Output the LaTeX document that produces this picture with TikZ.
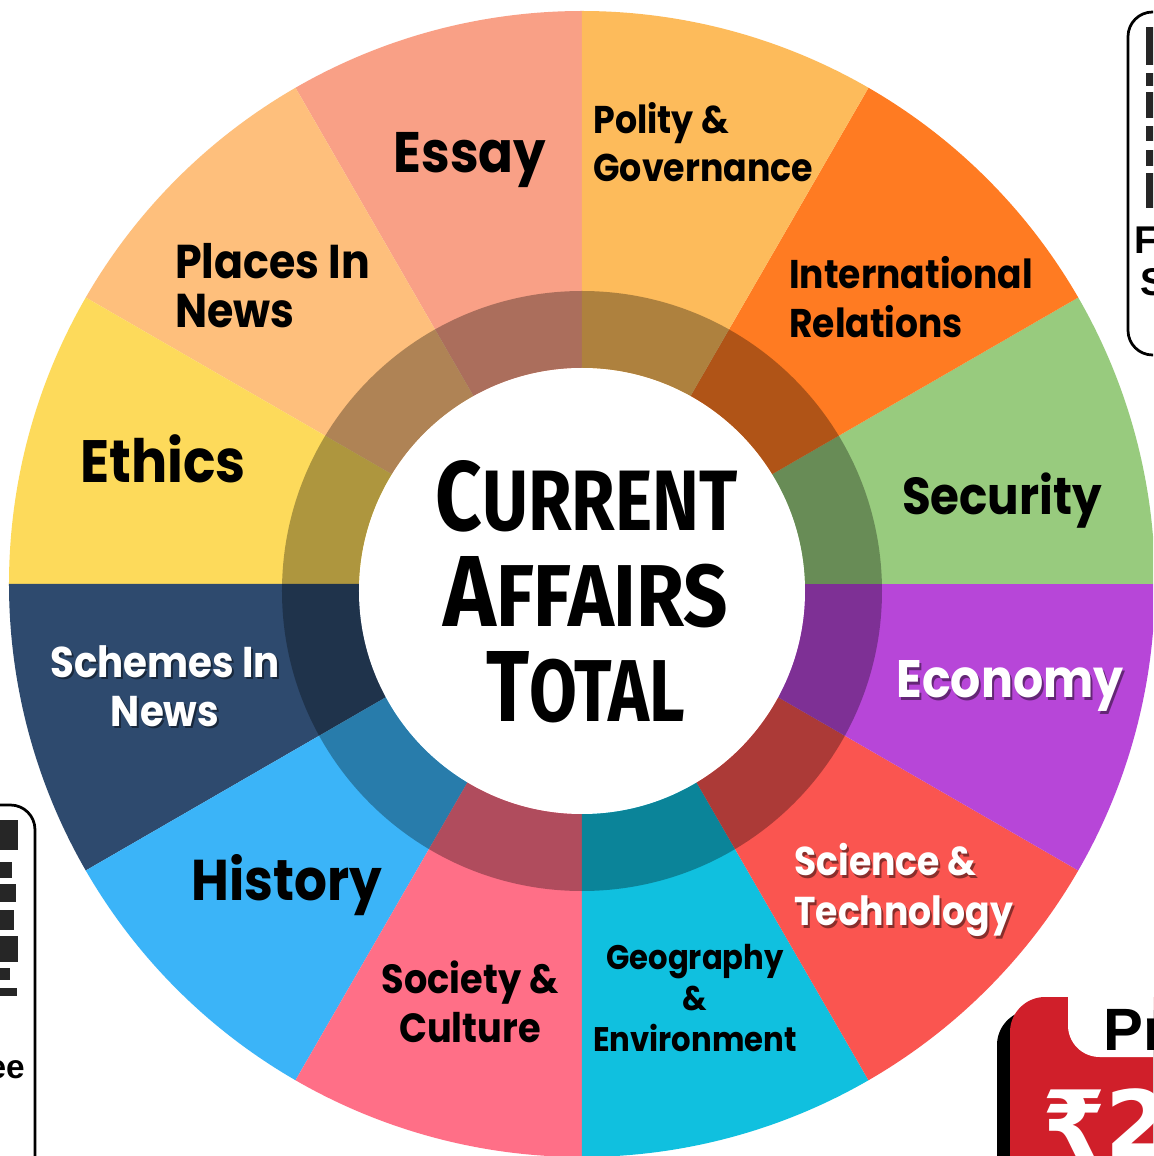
\documentclass[tikz,border=0pt]{standalone}
\usepackage{fontspec}
\usepackage{graphicx}
\setmainfont{Poppins}[FakeStretch=0.9]
\newfontfamily\titlefont{Fira Sans}
\newfontfamily\symfont{DejaVu Sans}
\newfontfamily\edgefont{Liberation Sans}
\usetikzlibrary{positioning}
\definecolor{secEssay}{HTML}{F9A086}
\definecolor{secPolity}{HTML}{FDBB5B}
\definecolor{secIntl}{HTML}{FF7B22}
\definecolor{secSecurity}{HTML}{98CB7E}
\definecolor{secEconomy}{HTML}{B746D8}
\definecolor{secScience}{HTML}{FA5550}
\definecolor{secGeo}{HTML}{10C0DF}
\definecolor{secSociety}{HTML}{FF6F87}
\definecolor{secHistory}{HTML}{3BB4F8}
\definecolor{secSchemes}{HTML}{2E4A6E}
\definecolor{secEthics}{HTML}{FDDA5B}
\definecolor{secPlaces}{HTML}{FEBF7C}
\definecolor{badgered}{HTML}{D01F2A}
\newcommand{\capword}[2]{{\fontsize{20}{20}\selectfont #1}{\fontsize{17.4}{20}\selectfont #2}}
\newcommand{\fs}[2]{\bfseries\fontsize{#1}{#2}\selectfont}

\begin{document}
\begin{tikzpicture}[
  x=0.2mm,y=0.2mm,
  lbl/.style={inner sep=0pt,text=black,align=left,font=\fs{22.8}{28}},
  lblbig/.style={lbl,font=\fs{33}{38}},
  lblw/.style={text=white},
  shade/.style={text=black,opacity=0.45},
  title/.style={inner sep=0pt,font=\titlefont\bfseries},
  edgebox/.style={draw=black,line width=0.55mm,rounded corners=14,fill=white},
  edgetxt/.style={inner sep=0pt,font=\edgefont\bfseries\fontsize{22}{24}\selectfont},
]
\useasboundingbox (-582,-572) rectangle (571,584);
\clip (-582,-572) rectangle (571,584);
\fill[white] (-582,-572) rectangle (571,584);

% sectors, from 90 deg anticlockwise
\foreach \clr [count=\i from 0] in {secEssay,secPlaces,secEthics,secSchemes,secHistory,secSociety,
    secGeo,secScience,secEconomy,secSecurity,secIntl,secPolity}
  \fill[\clr] (0,0) -- ({90+30*\i}:573) arc[start angle=90+30*\i,delta angle=30,radius=573] -- cycle;

% dark ring and white hub
\fill[black,opacity=0.31,even odd rule] (0,-7) circle[radius=300] (0,-7) circle[radius=223];
\fill[white] (0,-7) circle[radius=223];

% hub title
\node[title,anchor=south west] (cur) at (-147,51) {\resizebox{60.4mm}{14mm}{\capword{C}{URRENT}}};
\node[title,anchor=south west] (aff) at (-139,-44) {\resizebox{57mm}{14mm}{\capword{A}{FFAIRS}}};
\node[title,anchor=south west] (tot) at (-96,-139) {\resizebox{39.8mm}{14mm}{\capword{T}{OTAL}}};

% sector labels
\node[lblbig,font=\fs{32.5}{38},anchor=base] (essay) at (-112,411) {Essay};
\node[lbl,font=\fs{22}{27},anchor=west] (polity) at (11,442) {Polity \&\\Governance};
\node[lbl,anchor=west] (intl) at (207,287) {International\\Relations};
\node[lbl,font=\fs{27}{28},anchor=west] (places) at (-407,298) {Places In\\News};
\node[lblbig,font=\fs{34}{38},anchor=base] (ethics) at (-419,101) {Ethics};
\node[lbl,font=\fs{29.6}{34},anchor=base] (secur) at (420,69) {Security};
\node[lbl,font=\fs{24.5}{28},shade,align=center] (schemes-sh) at (-415,-104) {Schemes In\\News};
\node[lbl,font=\fs{24.5}{28},lblw,align=center] (schemes) at (-417,-102) {Schemes In\\News};
\node[lbl,font=\fs{30}{34},shade,anchor=base] (econ-sh) at (430,-116) {Economy};
\node[lbl,font=\fs{30}{34},lblw,anchor=base] (econ) at (428,-113) {Economy};
\node[lbl,font=\fs{22.9}{28},shade,anchor=west] (sci-sh) at (214,-309) {Science \&\\Technology};
\node[lbl,font=\fs{22.9}{28},lblw,anchor=west] (sci) at (212,-306) {Science \&\\Technology};
\node[lblbig,font=\fs{32.7}{38},anchor=base] (hist) at (-295,-316) {History};
\node[lbl,font=\fs{23.2}{28},align=center] (soc) at (-112,-418) {Society \&\\Culture};
\node[lbl,font=\fs{19.4}{23.5},align=center] (geo) at (113,-414) {Geography\\\&\\Environment};

% cut-off panels at the edges
\draw[edgebox] (546,229) rectangle (660,572);
\foreach \a/\b in {27/65,73/86,92/118,126/141,150/166,173/208}
  \fill[black!85] (564,584-\a) rectangle (575,584-\b);
\node[edgetxt,anchor=base west] (fr) at (552,330) {F};
\node[edgetxt,anchor=base west] (sr) at (558,288) {S};

\draw[edgebox] (-640,-221) rectangle (-547,-640);
\foreach \a/\b/\c in {820/850/18,862/878/12,884/902/16,910/930/14,936/962/18,968/980/10,988/996/17}
  \fill[black!85] (-582,584-\a) rectangle (-582+\c,584-\b);
\node[edgetxt,font=\edgefont\bfseries\fontsize{19}{20}\selectfont,anchor=base east] (ee) at (-557,-494) {ee};

\fill[black,rounded corners=20] (415,-426) rectangle (660,-700);
\fill[badgered,rounded corners=20] (428,-413) rectangle (660,-700);
\fill[white,rounded corners=18] (486,-473) rectangle (660,-380);
\node[inner sep=0pt,anchor=base west,font=\edgefont\bfseries\fontsize{34}{36}\selectfont] (pr) at (521,-466) {Pr};
\node[inner sep=0pt,anchor=base west,text=white,font=\symfont\bfseries\fontsize{52}{52}\selectfont] (rs) at (460,-572) {₹2};
\end{tikzpicture}
\end{document}
